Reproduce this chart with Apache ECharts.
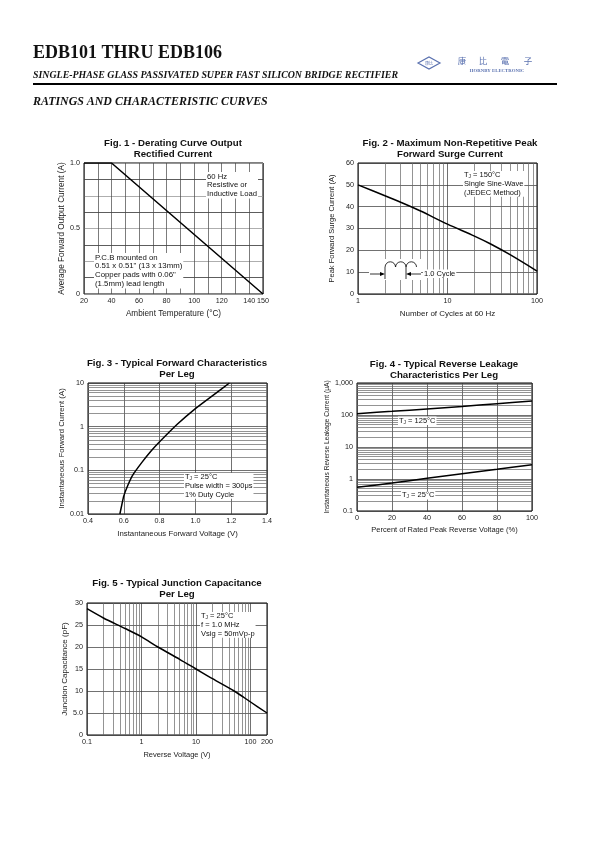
<!DOCTYPE html>
<html><head><meta charset="utf-8">
<script src="https://cdn.jsdelivr.net/npm/echarts@6/dist/echarts.min.js"></script>
<style>html,body{margin:0;padding:0;background:#fff}#c{width:595px;height:842px}</style>
</head><body><div id="c"></div>
<script>
// ---------- data ----------
// Fig. 1 - Derating curve
const fig1Temp = [20, 40, 150];
const fig1Current = [1.0, 1.0, 0];
const fig1XLabels = [20, 40, 60, 80, 100, 120, 140, 150];
const fig1YLabels = [[0, '0'], [0.5, '0.5'], [1, '1.0']];
// Fig. 2 - Surge current
const fig2Cycles = [1, 2, 3, 5, 10, 20, 30, 50, 100];
const fig2Surge = [50, 45, 42, 38, 32, 26.5, 23, 18, 10.5];
const fig2MinorX = [2, 3, 4, 5, 6, 7, 8, 9, 20, 30, 40, 50, 60, 70, 80, 90];
// Fig. 3 - Forward characteristics
const fig3Voltage = [0.578, 0.59, 0.6, 0.625, 0.65, 0.7, 0.75, 0.8, 0.9, 1.0, 1.1, 1.19];
const fig3Current = [0.01, 0.017, 0.026, 0.048, 0.078, 0.15, 0.27, 0.45, 1.15, 2.6, 5.3, 10];
const fig3MinorY = [0.02, 0.03, 0.04, 0.05, 0.06, 0.07, 0.08, 0.09, 0.2, 0.3, 0.4, 0.5, 0.6, 0.7, 0.8, 0.9, 2, 3, 4, 5, 6, 7, 8, 9];
// Fig. 4 - Reverse leakage
const fig4Percent = [0, 20, 40, 60, 80, 100];
const fig4Leak125 = [110, 130, 155, 185, 225, 275];
const fig4Leak25 = [0.55, 0.75, 1.05, 1.45, 2.0, 2.8];
const fig4MinorY = [0.2, 0.3, 0.4, 0.5, 0.6, 0.7, 0.8, 0.9, 2, 3, 4, 5, 6, 7, 8, 9, 20, 30, 40, 50, 60, 70, 80, 90, 200, 300, 400, 500, 600, 700, 800, 900];
// Fig. 5 - Junction capacitance
const fig5Voltage = [0.1, 0.2, 0.5, 1, 2, 5, 10, 20, 50, 100, 200];
const fig5Cap = [28.7, 26.6, 24.2, 22.3, 20.0, 17.2, 15.0, 12.8, 10.0, 7.5, 5.0];
const fig5MinorX = [0.2, 0.3, 0.4, 0.5, 0.6, 0.7, 0.8, 0.9, 2, 3, 4, 5, 6, 7, 8, 9, 20, 30, 40, 50, 60, 70, 80, 90];

// ---------- helpers ----------
const SANS = '"Liberation Sans", Arial, sans-serif';
const SERIF = '"Liberation Serif", "Times New Roman", serif';
const pairs = (xs, ys) => xs.map((x, i) => [x, ys[i]]);
const near = (a, b) => Math.abs(a - b) < 1e-6 * Math.max(1, Math.abs(b));
const LBL = { fontSize: 7.2, color: '#222', fontFamily: SANS, margin: 4 };
const nameStyle = fs => ({ fontSize: fs, fontFamily: SANS, color: '#222' });

function axis(gi, o) {
  return Object.assign({
    gridIndex: gi, type: 'value',
    axisLine: { show: false }, axisTick: { show: false },
    axisLabel: Object.assign({}, LBL),
    splitLine: { show: true, lineStyle: { color: '#333', width: 0.7 } },
    nameLocation: 'middle',
    nameTextStyle: nameStyle(7.5)
  }, o);
}
function minorSeries(xi, yi, dim, vals) {
  return {
    type: 'line', xAxisIndex: xi, yAxisIndex: yi, data: [], z: 1, silent: true,
    markLine: {
      silent: true, symbol: ['none', 'none'], label: { show: false },
      lineStyle: { color: '#666', width: 0.7, type: 'solid' },
      emphasis: { disabled: true },
      data: vals.map(v => ({ [dim]: v }))
    }
  };
}
function curve(xi, yi, data, smooth) {
  return { type: 'line', xAxisIndex: xi, yAxisIndex: yi, data, showSymbol: false, symbol: 'none',
    z: 5, silent: true, lineStyle: { color: '#000', width: 1.5 }, smooth: smooth === undefined ? 0.3 : smooth };
}
function txt(x, y, text, font, extra) {
  return { type: 'text', x, y, z: 50, silent: true,
    style: Object.assign({ text, fill: '#111', font, verticalAlign: 'middle' }, extra || {}) };
}
// notes: y is the top of the text block
function note(x, y, text, fs, extra) {
  fs = fs || 7.5;
  const lh = fs + 1.1;
  return { type: 'text', x, y, z: 50, silent: true,
    style: Object.assign({ text, fill: '#111', font: fs + 'px ' + SANS, lineHeight: lh, verticalAlign: 'top',
      backgroundColor: '#fff', padding: [0, 1],
      rich: { n: { fontSize: fs, fontFamily: SANS, lineHeight: lh }, s: { fontSize: fs * 0.65, fontFamily: SANS, verticalAlign: 'bottom', lineHeight: lh } } }, extra || {}) };
}
function title(cx, y, l1, l2) {
  const f = 'bold 9.7px ' + SANS;
  return [txt(cx, y, l1, f, { align: 'center' }), txt(cx, y + 11, l2, f, { align: 'center' })];
}
const ln = (x1, y1, x2, y2, w) => ({ type: 'line', z: 50, silent: true, shape: { x1, y1, x2, y2 }, style: { stroke: '#000', lineWidth: w || 0.8 } });

// ---------- grids ----------
const grids = [
  { left: 84, top: 163, width: 179, height: 131 },
  { left: 358, top: 163, width: 179, height: 131 },
  { left: 88, top: 383, width: 179, height: 131 },
  { left: 357, top: 383, width: 175, height: 128 },
  { left: 87, top: 603, width: 180, height: 132 }
].map(g => Object.assign(g, { show: true, borderColor: '#000', borderWidth: 1, backgroundColor: 'transparent', containLabel: false, outerBoundsMode: 'none' }));

const xAxes = [
  axis(0, { min: 20, max: 150, interval: 10, name: 'Ambient Temperature (\u00B0C)', nameGap: 16, nameTextStyle: nameStyle(8.2),
    axisLabel: Object.assign({}, LBL, { showMaxLabel: true, showMinLabel: true,
      formatter: v => fig1XLabels.some(t => near(v, t)) ? String(v) : '' }),
    splitLine: { show: true, lineStyle: { color: '#444', width: 0.7 } } }),
  axis(1, { type: 'log', logBase: 10, min: 1, max: 100, name: 'Number of Cycles at 60 Hz', nameGap: 16, nameTextStyle: nameStyle(8) }),
  axis(2, { min: 0.4, max: 1.4, interval: 0.2, name: 'Instantaneous Forward Voltage (V)', nameGap: 16, nameTextStyle: nameStyle(7.8),
    axisLabel: Object.assign({}, LBL, { formatter: v => v.toFixed(1) }) }),
  axis(3, { min: 0, max: 100, interval: 20, name: 'Percent of Rated Peak Reverse Voltage (%)', nameGap: 15, nameTextStyle: nameStyle(7.5) }),
  axis(4, { type: 'log', logBase: 10, min: 0.1, max: 200, name: 'Reverse Voltage (V)', nameGap: 16, nameTextStyle: nameStyle(7.5),
    axisLabel: Object.assign({}, LBL, { showMaxLabel: true, showMinLabel: true,
      formatter: v => String(Number(v.toPrecision(3))) }) })
];
const yAxes = [
  axis(0, { min: 0, max: 1, interval: 0.125, name: 'Average Forward Output Current (A)', nameGap: 17, nameTextStyle: nameStyle(8.2),
    axisLabel: Object.assign({}, LBL, {
      formatter: v => { const f = fig1YLabels.find(t => near(v, t[0])); return f ? f[1] : ''; } }),
    splitLine: { show: true, lineStyle: { color: ['#999', '#333'], width: 0.8 } } }),
  axis(1, { min: 0, max: 60, interval: 10, name: 'Peak Forward Surge Current (A)', nameGap: 22, nameTextStyle: nameStyle(7.5) }),
  axis(2, { type: 'log', logBase: 10, min: 0.01, max: 10, name: 'Instantaneous Forward Current (A)', nameGap: 18, nameTextStyle: nameStyle(7.8),
    axisLabel: Object.assign({}, LBL, { formatter: v => String(Number(v.toPrecision(3))) }) }),
  axis(3, { type: 'log', logBase: 10, min: 0.1, max: 1000, name: 'Instantaneous Reverse Leakage Current (\u03BCA)', nameGap: 18, nameTextStyle: nameStyle(6.6),
    axisLabel: Object.assign({}, LBL, {
      formatter: v => { const r = Number(v.toPrecision(3)); return r >= 1000 ? '1,000' : String(r); } }) }),
  axis(4, { min: 0, max: 30, interval: 5, name: 'Junction Capacitance (pF)', nameGap: 18, nameTextStyle: nameStyle(8),
    axisLabel: Object.assign({}, LBL, { formatter: v => v === 5 ? '5.0' : String(v) }) })
];

const series = [
  curve(0, 0, pairs(fig1Temp, fig1Current), false),
  minorSeries(1, 1, 'xAxis', fig2MinorX),
  curve(1, 1, pairs(fig2Cycles, fig2Surge)),
  minorSeries(2, 2, 'yAxis', fig3MinorY),
  curve(2, 2, pairs(fig3Voltage, fig3Current), 0.2),
  minorSeries(3, 3, 'yAxis', fig4MinorY),
  curve(3, 3, pairs(fig4Percent, fig4Leak125)),
  curve(3, 3, pairs(fig4Percent, fig4Leak25)),
  minorSeries(4, 4, 'xAxis', fig5MinorX),
  curve(4, 4, pairs(fig5Voltage, fig5Cap))
];

const LOGO = '#5b72b0';
const graphic = [
  // header
  txt(33, 53, 'EDB101 THRU EDB106', 'bold 18px ' + SERIF),
  txt(33, 75, 'SINGLE-PHASE GLASS PASSIVATED SUPER FAST SILICON BRIDGE RECTIFIER', 'italic bold 9.9px ' + SERIF),
  ln(33, 84, 557, 84, 2),
  txt(33, 102, 'RATINGS AND CHARACTERISTIC CURVES', 'italic bold 11.9px ' + SERIF),
  { type: 'polygon', z: 50, silent: true, shape: { points: [[418, 63], [429, 57], [440, 63], [429, 69]] }, style: { stroke: LOGO, fill: '#fff', lineWidth: 1.2 } },
  txt(429, 63, '\u5EB7\u6BD4', '4px "Noto Sans CJK TC"', { fill: LOGO, align: 'center' }),
  txt(462, 61, '\u5EB7', '8.5px "Noto Sans CJK TC"', { fill: LOGO, align: 'center' }),
  txt(483, 61, '\u6BD4', '8.5px "Noto Sans CJK TC"', { fill: LOGO, align: 'center' }),
  txt(505, 61, '\u96FB', '8.5px "Noto Sans CJK TC"', { fill: LOGO, align: 'center' }),
  txt(528, 61, '\u5B50', '8.5px "Noto Sans CJK TC"', { fill: LOGO, align: 'center' }),
  txt(497, 71, 'HORNBY ELECTRONIC', 'bold 4.8px ' + SERIF, { fill: LOGO, align: 'center' }),
  // titles
  ...title(173, 143, 'Fig. 1 - Derating Curve Output', 'Rectified Current'),
  ...title(450, 143, 'Fig. 2 - Maximum Non-Repetitive Peak', 'Forward Surge Current'),
  ...title(177, 363, 'Fig. 3 - Typical Forward Characteristics', 'Per Leg'),
  ...title(444, 364, 'Fig. 4 - Typical Reverse Leakage', 'Characteristics Per Leg'),
  ...title(177, 583, 'Fig. 5 - Typical Junction Capacitance', 'Per Leg'),
  // annotations (y = top of block)
  note(206, 172, '60 Hz\nResistive or\nInductive Load', 7.7),
  note(94, 253, 'P.C.B mounted on\n0.51 x 0.51" (13 x 13mm)\nCopper pads with 0.06"\n(1.5mm) lead length', 7.8),
  note(463, 171, '{n|T}{s|J}{n| = 150\u00B0C}\n{n|Single Sine-Wave}\n{n|(JEDEC Method)}', 7.5),
  note(423, 269.5, '1.0 Cycle', 7.5),
  note(184, 473, '{n|T}{s|J}{n| = 25\u00B0C}\n{n|Pulse width = 300\u03BCs}\n{n|1% Duty Cycle}', 7.5),
  note(398, 416.5, '{n|T}{s|J}{n| = 125\u00B0C}', 7.5),
  note(401, 491, '{n|T}{s|J}{n| = 25\u00B0C}', 7.5),
  note(200, 612, '{n|T}{s|J}{n| = 25\u00B0C}\n{n|f = 1.0 MHz}\n{n|Vsig = 50mVp-p}', 7.5),
  // 1.0 cycle sketch (Fig. 2)
  { type: 'rect', z: 45, silent: true, shape: { x: 369, y: 259, width: 52, height: 21 }, style: { fill: '#fff' } },
  { type: 'arc', z: 50, silent: true, shape: { cx: 390.3, cy: 267, r: 5.2, startAngle: Math.PI, endAngle: 2 * Math.PI }, style: { stroke: '#000', fill: null, lineWidth: 0.8 } },
  { type: 'arc', z: 50, silent: true, shape: { cx: 400.8, cy: 267, r: 5.2, startAngle: Math.PI, endAngle: 2 * Math.PI }, style: { stroke: '#000', fill: null, lineWidth: 0.8 } },
  { type: 'arc', z: 50, silent: true, shape: { cx: 411.3, cy: 267, r: 5.2, startAngle: Math.PI, endAngle: 2 * Math.PI }, style: { stroke: '#000', fill: null, lineWidth: 0.8 } },
  ln(385, 267, 385, 279, 0.8),
  ln(406, 267, 406, 279, 0.8),
  ln(370, 274, 381, 274, 0.8),
  { type: 'polygon', z: 50, silent: true, shape: { points: [[385, 274], [380, 272], [380, 276]] }, style: { fill: '#000' } },
  ln(410, 274, 421, 274, 0.8),
  { type: 'polygon', z: 50, silent: true, shape: { points: [[406, 274], [411, 272], [411, 276]] }, style: { fill: '#000' } }
];

const chart = echarts.init(document.getElementById('c'), null, { renderer: 'canvas', width: 595, height: 842 });
chart.setOption({
  backgroundColor: '#fff', animation: false,
  grid: grids, xAxis: xAxes, yAxis: yAxes, series, graphic
});
</script></body></html>
